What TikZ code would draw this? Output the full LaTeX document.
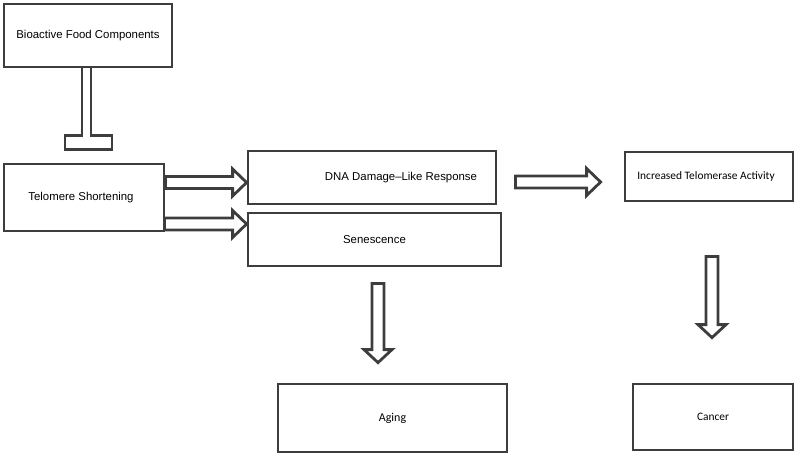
\documentclass[tikz,border=0pt]{standalone}
\usepackage{fontspec}
\setmainfont{Liberation Sans}
\newfontfamily\calibri{Carlito}
\usetikzlibrary{calc,positioning}
\colorlet{linegray}{black!76}
\tikzstyle{box}=[draw=linegray,line width=2.8pt,rectangle,inner sep=2pt,
  font=\fontsize{11.4}{13}\selectfont]
\tikzstyle{hollow}=[draw=linegray,line width=2.8pt,line join=miter]

\newcommand{\rightblock}[2]{%
  \draw[hollow] let \p1=#1, \p2=#2 in
    (\x1,{\y1+6pt}) -- ({\x2-14pt},{\y1+6pt}) -- ({\x2-14pt},{\y1+13.5pt})
    -- (\x2,\y1) -- ({\x2-14pt},{\y1-13.5pt}) -- ({\x2-14pt},{\y1-6pt})
    -- (\x1,{\y1-6pt}) -- cycle;}
\newcommand{\downblock}[2]{%
  \draw[hollow] let \p1=#1, \p2=#2 in
    ({\x1-6pt},\y1) -- ({\x1-6pt},{\y2+13pt}) -- ({\x1-14pt},{\y2+13pt})
    -- (\x1,\y2) -- ({\x1+14pt},{\y2+13pt}) -- ({\x1+6pt},{\y2+13pt})
    -- ({\x1+6pt},\y1) -- cycle;}

\begin{document}
\begin{tikzpicture}[x=1pt, y=-1pt]
  \useasboundingbox (0,0) rectangle (797,456);

  \node[box, minimum width=168, minimum height=63] (food) at (88,35.5) {Bioactive Food Components};
  \node[box, minimum width=160, minimum height=67] (tel) at (84,197.5) {Telomere Shortening\hspace*{6pt}};
  \node[box, minimum width=248, minimum height=53] (dna) at (372,177.5) {\hspace*{58pt}DNA Damage–Like Response};
  \node[box, minimum width=253, minimum height=53] (sen) at (374.5,239.5) {Senescence};
  \node[box, minimum width=168, minimum height=49, font=\calibri\fontsize{11.4}{13}\selectfont] (inc) at (709,176.5) {Increased Telomerase Activity\hspace*{6pt}};
  \node[box, minimum width=229, minimum height=68, font=\calibri\fontsize{12}{14}\selectfont] (aging) at (392.5,418) {Aging};
  \node[box, minimum width=160, minimum height=66, font=\calibri\fontsize{11.4}{13}\selectfont] (cancer) at (713,417) {Cancer};

  \coordinate (stop) at ($(food.south |- tel.north)+(0,-13)$);
  \draw[hollow] ($(food.south)+(-6,0)$) -- ($(stop)+(-6,-14)$) -| ($(stop)+(-23,0)$)
    -| ($(stop)+(24,-14)$) -- ($(stop)+(3,-14)$) -- ($(food.south)+(3,0)$);

  \rightblock{($(tel.east)+(0,-15)$)}{(dna.west)}
  \rightblock{($(tel.east)+(-1,26.5)$)}{(sen.west)}
  \rightblock{($(dna.east)+(18,4.5)$)}{($(inc.west)+(-23,0)$)}
  \downblock{($(sen.south)+(3.5,16)$)}{($(aging.north)+(0,-20)$)}
  \downblock{($(inc.south)+(3,54)$)}{($(cancer.north)+(0,-45)$)}
\end{tikzpicture}
\end{document}
